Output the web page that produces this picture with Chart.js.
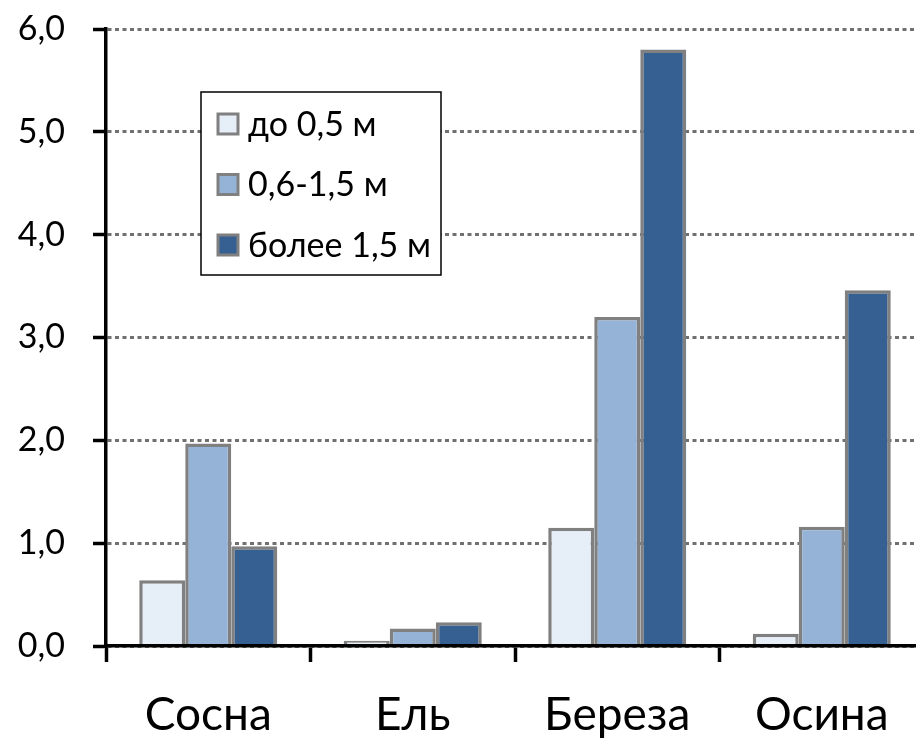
<!DOCTYPE html>
<html>
<head>
<meta charset="utf-8">
<script src="https://cdn.jsdelivr.net/npm/chart.js@4"></script>
<style>
html, body { margin: 0; padding: 0; overflow: hidden; background: #fff; }
</style>
</head>
<body>
<canvas id="barChart" width="924" height="739"></canvas>
<script>
const categories = ['Сосна', 'Ель', 'Береза', 'Осина'];
const seriesLabels = ['до 0,5 м', '0,6-1,5 м', 'более 1,5 м'];
const upTo05 = [0.64, 0.05, 1.15, 0.12];
const from06to15 = [1.97, 0.17, 3.20, 1.16];
const over15 = [0.97, 0.23, 5.80, 3.46];
const yTickLabels = ['0,0', '1,0', '2,0', '3,0', '4,0', '5,0', '6,0'];

const fillColors = ['#E6EEF7', '#95B3D7', '#366092'];
const edgeColor = '#808080';
const fontFamily = 'Lato, "Open Sans", sans-serif';

// legend box sits inside the plot, like the original
const insideLegend = {
    id: 'insideLegend',
    afterDraw(chart) {
        const ctx = chart.ctx;
        const x = 201, y = 92, w = 240, h = 183;
        ctx.save();
        ctx.fillStyle = '#fff';
        ctx.fillRect(x, y, w, h);
        ctx.strokeStyle = '#000';
        ctx.lineWidth = 1.5;
        ctx.strokeRect(x, y, w, h);
        ctx.font = '34px ' + fontFamily;
        ctx.textBaseline = 'middle';
        chart.data.datasets.forEach(function (ds, i) {
            const cy = 124 + i * 60.5;
            ctx.fillStyle = ds.backgroundColor;
            ctx.fillRect(218, cy - 10, 20, 20);
            ctx.strokeStyle = edgeColor;
            ctx.lineWidth = 3;
            ctx.strokeRect(218, cy - 10, 20, 20);
            ctx.fillStyle = '#000';
            ctx.fillText(ds.label, 248, cy + 1);
        });
        ctx.restore();
    }
};

const barChart = document.getElementById('barChart');
const barChartVar = new Chart(barChart, {
    type: 'bar',
    data: {
        labels: categories,
        datasets: [upTo05, from06to15, over15].map(function (vals, i) {
            return {
                label: seriesLabels[i],
                data: vals,
                backgroundColor: fillColors[i],
                borderColor: edgeColor,
                borderWidth: 3.5,
                categoryPercentage: 0.675,
                barPercentage: 1
            };
        })
    },
    options: {
        responsive: false,
        animation: false,
        layout: {
            padding: { top: 29, right: 0, left: 0, bottom: 0 }
        },
        plugins: {
            legend: { display: false },
            tooltip: { enabled: false }
        },
        scales: {
            x: {
                offset: true,
                afterFit(scale) { scale.height = 93; },
                grid: {
                    offset: true,
                    drawOnChartArea: false,
                    tickLength: 16,
                    tickWidth: 3.5,
                    tickColor: '#000'
                },
                border: { color: '#000', width: 3.5, z: 1 },
                ticks: {
                    color: '#000',
                    padding: 26,
                    font: { family: fontFamily, size: 46 }
                }
            },
            y: {
                min: 0,
                max: 6,
                afterFit(scale) {
                    scale.width = 106;
                    scale.paddingTop = 0;
                    scale.paddingBottom = 0;
                },
                grid: {
                    color: '#707070',
                    lineWidth: 3,
                    tickLength: 13,
                    tickWidth: 3.5,
                    tickColor: '#000'
                },
                border: { color: '#000', width: 3.5, dash: [4, 3.5], z: 1 },
                ticks: {
                    stepSize: 1,
                    color: '#000',
                    padding: 28,
                    font: { family: fontFamily, size: 34 },
                    callback: function (value) { return yTickLabels[value]; }
                }
            }
        }
    },
    plugins: [insideLegend]
});
</script>
</body>
</html>
